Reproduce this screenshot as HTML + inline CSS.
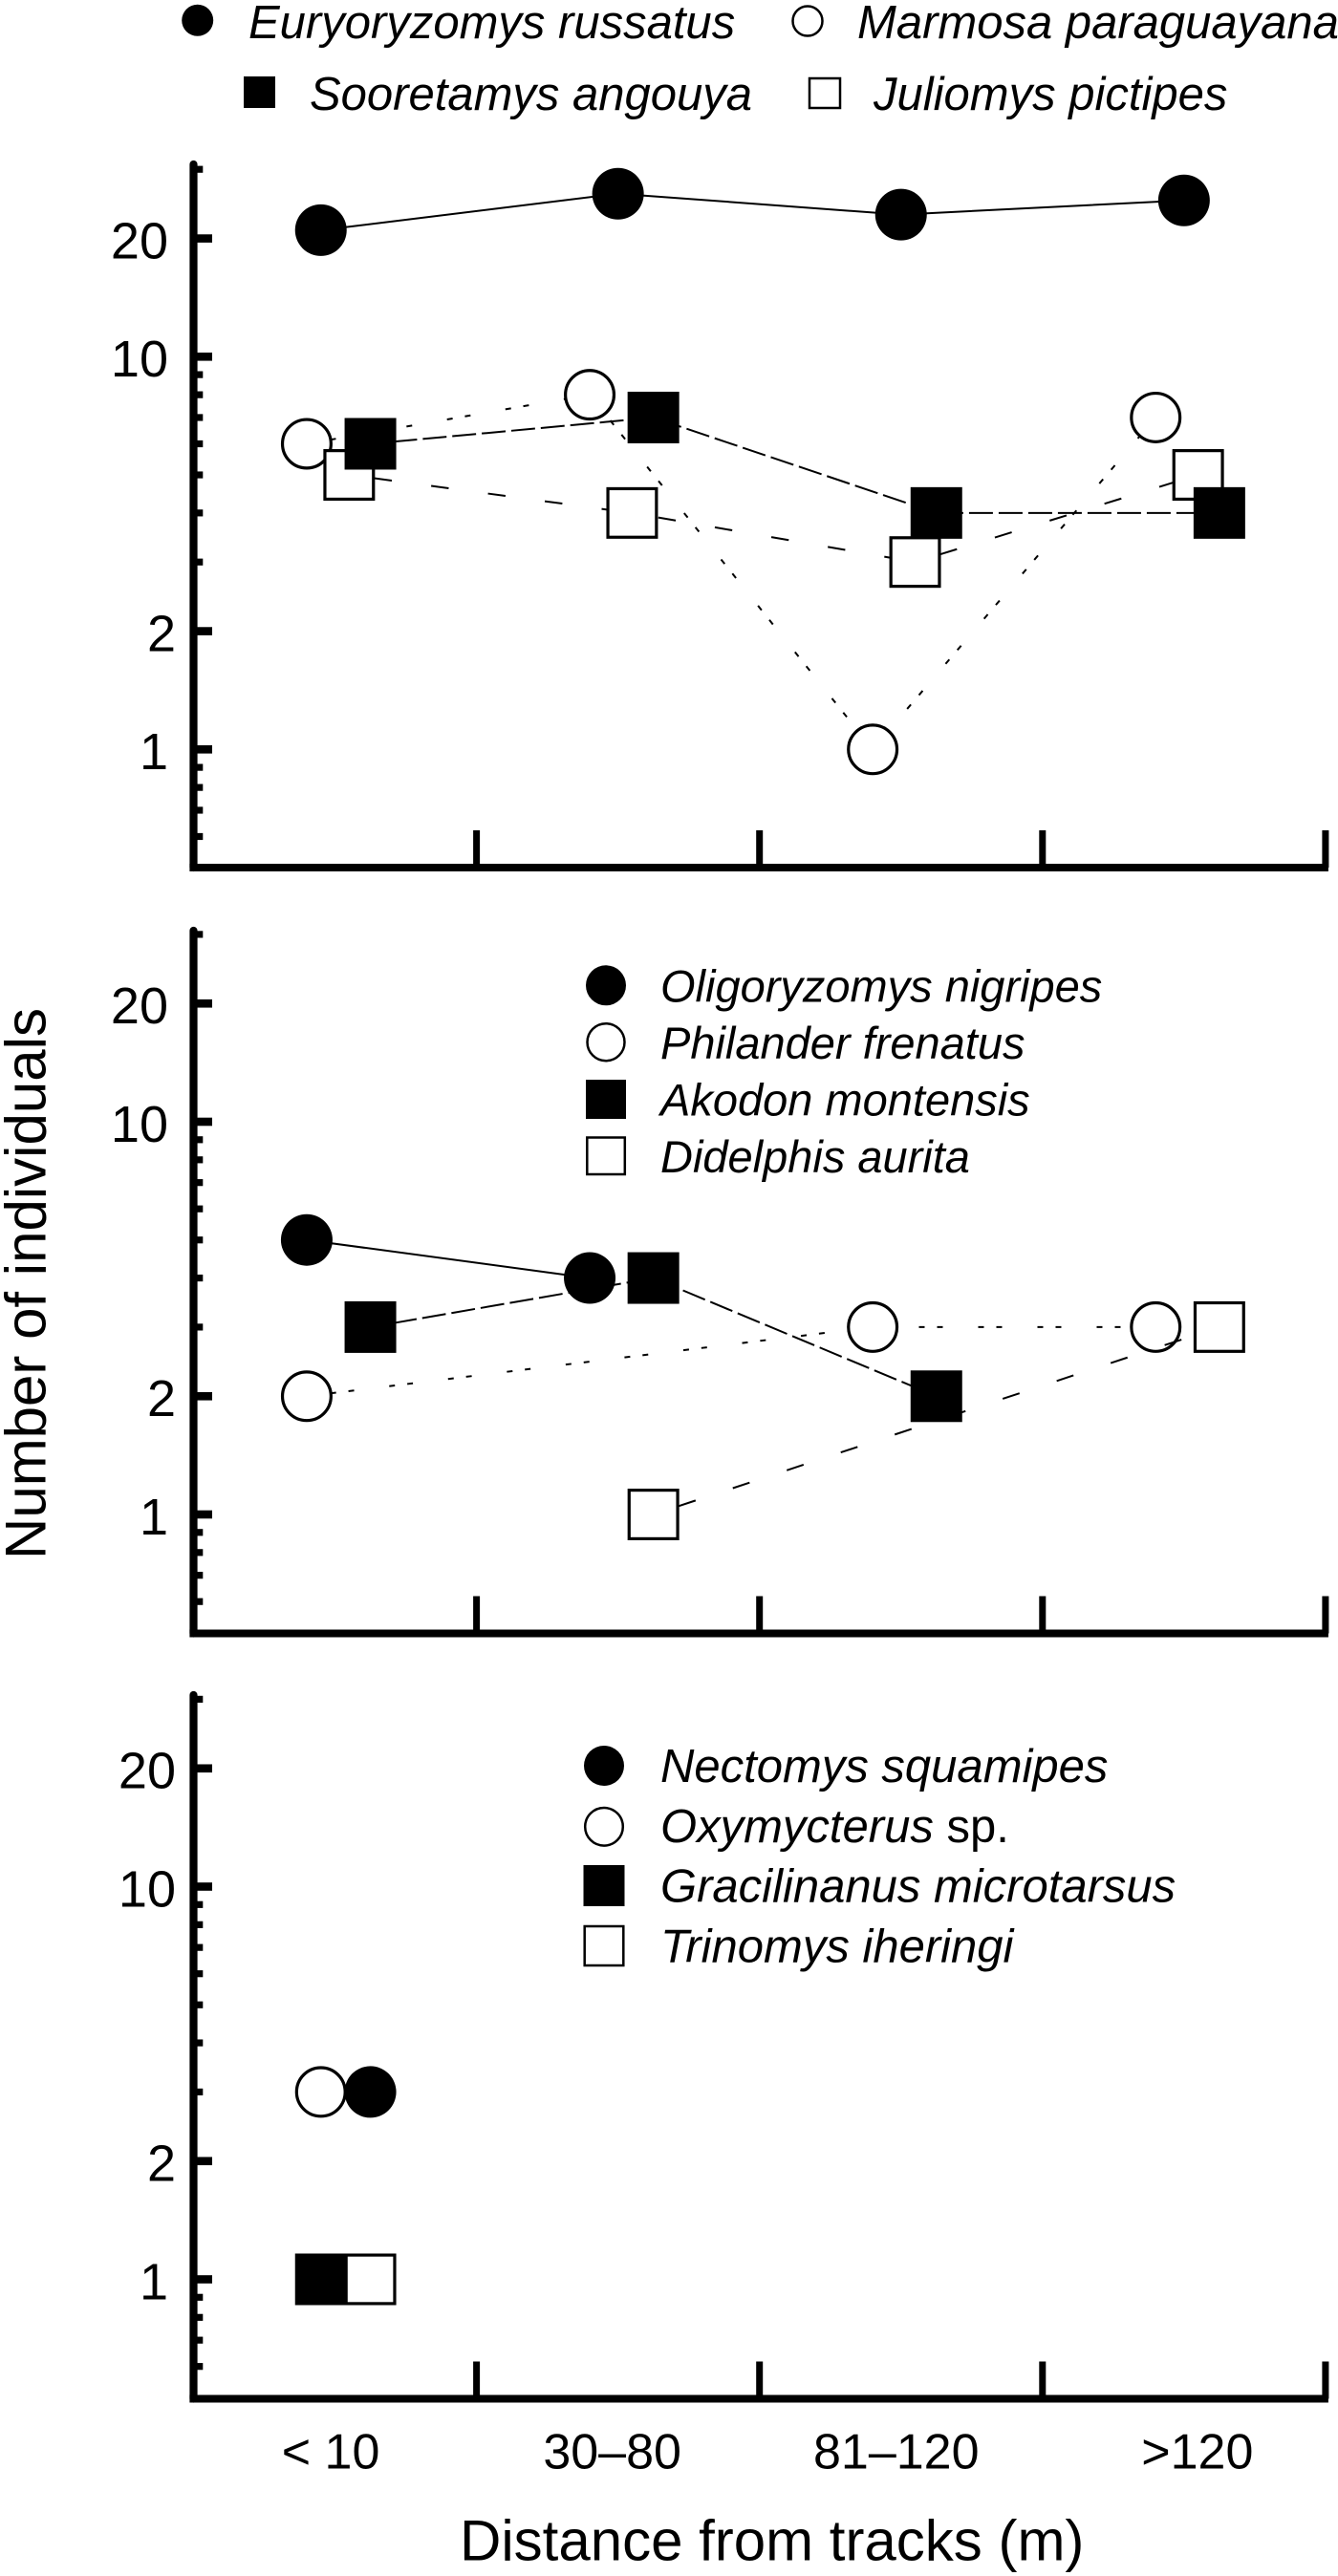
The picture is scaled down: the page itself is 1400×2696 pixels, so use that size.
<!DOCTYPE html>
<html lang="en">
<head>
<meta charset="utf-8">
<title>Number of individuals by distance from tracks</title>
<style>
html,body{margin:0;padding:0;background:#fff;}
svg{display:block;}
text{font-family:"Liberation Sans",Arial,sans-serif;fill:#000;}
.leg{font-style:italic;font-size:49px;}
.leg2{font-style:italic;font-size:47px;}
.leg3{font-style:italic;font-size:49px;}
.tick{font-size:52px;}
.ytick{font-size:54px;}
.title{font-size:60px;}
</style>
</head>
<body>
<svg id="chart" xmlns="http://www.w3.org/2000/svg" width="1400" height="2696" viewBox="0 0 1400 2696">
  <rect x="0" y="0" width="1400" height="2696" fill="#fff"/>

  <g id="plots"></g>

  <g>
    <g>
      <circle cx="206.7" cy="21.3" r="16.5" fill="#000"/>
      <text class="leg" x="260" y="40">Euryoryzomys russatus</text>
    </g>
    <g>
      <circle cx="845" cy="22" r="15.5" fill="#fff" stroke="#000" stroke-width="2.5"/>
      <text class="leg" x="897" y="40">Marmosa paraguayana</text>
    </g>
    <g>
      <rect x="255" y="80" width="33" height="33" fill="#000"/>
      <text class="leg" x="324" y="115">Sooretamys angouya</text>
    </g>
    <g>
      <rect x="847" y="82" width="32" height="31" fill="#fff" stroke="#000" stroke-width="2.5"/>
      <text class="leg" x="914" y="115">Juliomys pictipes</text>
    </g>
  </g>

  <g>
    <g>
      <circle cx="634" cy="1031.3" r="21" fill="#000"/>
      <text class="leg2" x="691" y="1048.7">Oligoryzomys nigripes</text>
    </g>
    <g>
      <circle cx="634" cy="1090.7" r="19.5" fill="#fff" stroke="#000" stroke-width="2.5"/>
      <text class="leg2" x="691" y="1108">Philander frenatus</text>
    </g>
    <g>
      <rect x="613" y="1130" width="42" height="41" fill="#000"/>
      <text class="leg2" x="691" y="1167.7">Akodon montensis</text>
    </g>
    <g>
      <rect x="614.3" y="1190.5" width="39.5" height="38.5" fill="#fff" stroke="#000" stroke-width="2.5"/>
      <text class="leg2" x="691" y="1227">Didelphis aurita</text>
    </g>
  </g>

  <g>
    <g>
      <circle cx="632" cy="1848" r="21" fill="#000"/>
      <text class="leg3" x="691" y="1865">Nectomys squamipes</text>
    </g>
    <g>
      <circle cx="632" cy="1911.8" r="19.8" fill="#fff" stroke="#000" stroke-width="2.5"/>
      <text class="leg3" x="691" y="1928">Oxymycterus<tspan font-style="normal"> sp.</tspan></text>
    </g>
    <g>
      <rect x="610.5" y="1952" width="43" height="43" fill="#000"/>
      <text class="leg3" x="691" y="1990.6">Gracilinanus microtarsus</text>
    </g>
    <g>
      <rect x="611.7" y="2016" width="40.6" height="41" fill="#fff" stroke="#000" stroke-width="2.5"/>
      <text class="leg3" x="691" y="2053.6">Trinomys iheringi</text>
    </g>
  </g>

  <text class="title" transform="translate(47.3 1632) rotate(-90)">Number of individuals</text>
  <text class="title" x="481" y="2679.3">Distance from tracks (m)</text>
</svg>

<script>
// ---- data arrays ----
const categories = ['< 10', '30–80', '81–120', '>120'];
const yMajorTicks = [20, 10, 2, 1];
const yMinorTicks = [30, 9, 8, 7, 6, 5, 4, 3, 0.9, 0.8, 0.7, 0.6];

const euryoryzomysRussatus = [21, 26, 23, 25];
const marmosaParaguayana = [6, 8, 1, 7];
const sooretamysAngouya = [6, 7, 4, 4];
const juliomysPictipes = [5, 4, 3, 5];

const oligoryzomysNigripes = [5, 4, null, null];
const philanderFrenatus = [2, null, 3, 3];
const akodonMontensis = [3, 4, 2, null];
const didelphisAurita = [null, 1, null, 3];

const nectomysSquamipes = [3, null, null, null];
const oxymycterusSp = [3, null, null, null];
const gracilinanusMicrotarsus = [1, null, null, null];
const trinomysIheringi = [1, null, null, null];

// ---- layout ----
const SVG_NS = 'http://www.w3.org/2000/svg';
const plotLeft = 202.5, bandWidth = 296.1, markerSize = 54;
const categoryLabelNudge = [-4.5, -6, -5, 14];
const decadeHeight = 411;

// Line styles: dash array and pattern phase.
const solid = { dash: null, phase: 0 };
const longDash = { dash: '25 6', phase: -24 };
const sparseDash = { dash: '18.5 41.5', phase: -26.5 };
const sparseDashMiddle = { dash: '18.5 41', phase: -28 };
const doubleDot = { dash: '6 13 6 37', phase: -25 };

const panels = [
  {
    id: 'top', y10: 373.3, top: 168, bottom: 908, rightAlignWide: false,
    series: [
      { key: 'euryoryzomys-russatus', values: euryoryzomysRussatus, shift: [-0.05, 0, 0, 0], shape: 'circle', filled: true, line: solid },
      { key: 'marmosa-paraguayana', values: marmosaParaguayana, shift: [-0.1, -0.1, -0.1, -0.1], shape: 'circle', filled: false, line: doubleDot },
      { key: 'juliomys-pictipes', values: juliomysPictipes, shift: [0.05, 0.05, 0.05, 0.05], shape: 'square', filled: false, line: sparseDash },
      { key: 'sooretamys-angouya', values: sooretamysAngouya, shift: [0.125, 0.125, 0.125, 0.125], shape: 'square', filled: true, line: longDash }
    ]
  },
  {
    id: 'middle', y10: 1174, top: 970, bottom: 1709.5, rightAlignWide: false,
    series: [
      { key: 'philander-frenatus', values: philanderFrenatus, shift: [-0.1, -0.1, -0.1, -0.1], shape: 'circle', filled: false, line: doubleDot },
      { key: 'didelphis-aurita', values: didelphisAurita, shift: [0.125, 0.125, 0.125, 0.125], shape: 'square', filled: false, line: sparseDashMiddle },
      { key: 'oligoryzomys-nigripes', values: oligoryzomysNigripes, shift: [-0.1, -0.1, -0.1, -0.1], shape: 'circle', filled: true, line: solid },
      { key: 'akodon-montensis', values: akodonMontensis, shift: [0.125, 0.125, 0.125, 0.125], shape: 'square', filled: true, line: longDash }
    ]
  },
  {
    id: 'bottom', y10: 1974.5, top: 1770, bottom: 2510.5, rightAlignWide: true,
    series: [
      { key: 'nectomys-squamipes', values: nectomysSquamipes, shift: [0.125, 0, 0, 0], shape: 'circle', filled: true, line: solid },
      { key: 'oxymycterus-sp', values: oxymycterusSp, shift: [-0.05, 0, 0, 0], shape: 'circle', filled: false, line: solid },
      { key: 'trinomys-iheringi', values: trinomysIheringi, shift: [0.125, 0, 0, 0], shape: 'square', filled: false, line: solid },
      { key: 'gracilinanus-microtarsus', values: gracilinanusMicrotarsus, shift: [-0.05, 0, 0, 0], shape: 'square', filled: true, line: solid }
    ]
  }
];

// ---- axis functions ----
function xScale(position) {
  return plotLeft + (position + 0.5) * bandWidth;
}
function yScale(panel, value) {
  return panel.y10 + decadeHeight * (1 - Math.log10(value));
}

function make(tag, attrs, parent) {
  const el = document.createElementNS(SVG_NS, tag);
  for (const k in attrs) el.setAttribute(k, attrs[k]);
  parent.appendChild(el);
  return el;
}

const root = document.getElementById('plots');

panels.forEach(function (panel) {
  const g = make('g', {}, root);
  
  

  // y axis
  const yAxis = make('line', { x1: plotLeft, x2: plotLeft, y1: panel.top + 4, y2: panel.bottom, stroke: '#000', 'stroke-width': 8.2, 'stroke-linecap': 'round' }, g);
  
  

  yMajorTicks.forEach(function (v) {
    const y = yScale(panel, v);
    const tick = make('rect', { x: plotLeft, y: y - 4.3, width: 19.5, height: 8.6, fill: '#000' }, g);
    
    
    const wide = v === 2 || (panel.rightAlignWide && v >= 2);
    const label = make('text', { x: wide ? 184 : 176, y: y + 20.8, 'text-anchor': 'end', class: 'ytick' }, g);
    label.textContent = String(v);
    
    
  });

  yMinorTicks.forEach(function (v) {
    const y = yScale(panel, v);
    const tick = make('rect', { x: plotLeft, y: y - 3.6, width: 9.8, height: 7.2, fill: '#000' }, g);
    
    
  });

  // x axis
  const xAxis = make('line', { x1: plotLeft - 4.1, x2: xScale(categories.length - 0.5) + 3, y1: panel.bottom, y2: panel.bottom, stroke: '#000', 'stroke-width': 8 }, g);
  
  

  categories.forEach(function (c, i) {
    const x = xScale(i + 0.5);
    const tick = make('rect', { x: x - 3.5, y: panel.bottom - 39, width: 7, height: 39, fill: '#000' }, g);
    
    
  });

  // each series draws its line, then its markers, so a later line can cross an earlier open marker
  panel.series.forEach(function (s) {
    const pts = [];
    s.values.forEach(function (v, i) {
      if (v !== null) pts.push(xScale(i + s.shift[i]).toFixed(1) + ',' + yScale(panel, v).toFixed(1));
    });
    if (pts.length >= 2) {
      const line = make('polyline', { points: pts.join(' '), fill: 'none', stroke: '#000', 'stroke-width': 2 }, g);
      if (s.line.dash) {
        line.setAttribute('stroke-dasharray', s.line.dash);
        line.setAttribute('stroke-dashoffset', s.line.phase);
      }
      
      
    }

    s.values.forEach(function (v, i) {
      if (v === null) return;
      const cx = xScale(i + s.shift[i]);
      const cy = yScale(panel, v);
      const inset = s.filled ? 0 : 1.6;
      const paint = s.filled
        ? { fill: '#000' }
        : { fill: '#fff', stroke: '#000', 'stroke-width': 3.2 };
      let mark;
      if (s.shape === 'circle') {
        mark = make('circle', Object.assign({ cx: cx, cy: cy, r: markerSize / 2 - inset }, paint), g);
      } else {
        mark = make('rect', Object.assign({ x: cx - markerSize / 2 + inset, y: cy - markerSize / 2 + inset, width: markerSize - 2 * inset, height: markerSize - 2 * inset }, paint), g);
      }
      
      
    });
  });
});

// category labels under the bottom panel
categories.forEach(function (c, i) {
  const label = make('text', { x: xScale(i) + categoryLabelNudge[i], y: 2583.3, 'text-anchor': 'middle', class: 'tick' }, root);
  label.textContent = c;
  
  
});
</script>
</body>
</html>
